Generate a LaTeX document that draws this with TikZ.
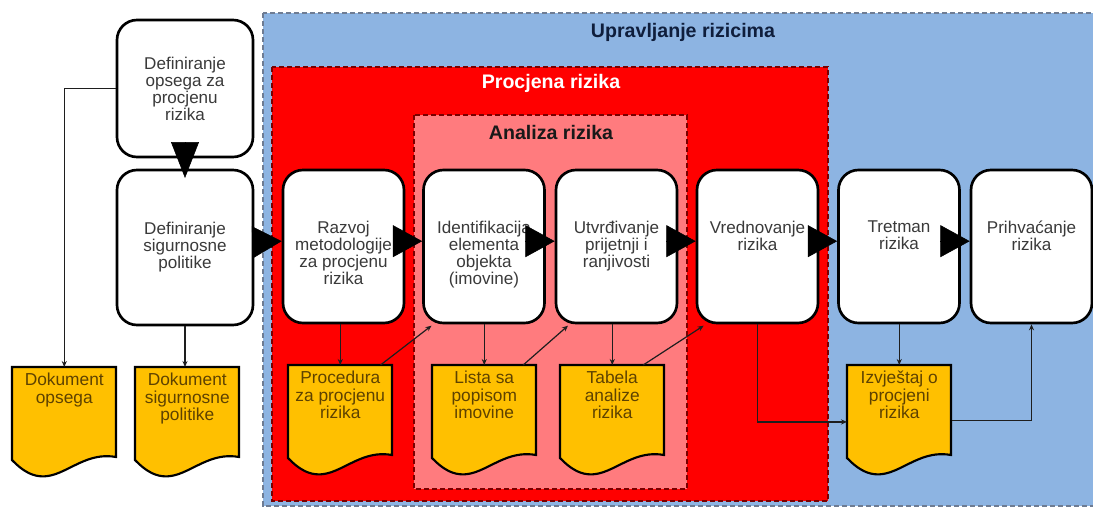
\documentclass[tikz,border=0pt]{standalone}
\usepackage{fontspec}
\setmainfont{Liberation Sans}
\usetikzlibrary{arrows.meta}
\definecolor{upr}{HTML}{8DB4E2}
\definecolor{uprb}{HTML}{6E7C93}
\definecolor{proc}{HTML}{FF0000}
\definecolor{procb}{HTML}{7A0000}
\definecolor{anal}{HTML}{FF7B7E}
\definecolor{docfill}{HTML}{FFC000}
\definecolor{doctx}{HTML}{5E4200}
\definecolor{boxtx}{HTML}{3A3A3A}
\definecolor{lntx}{HTML}{1E1E1E}
\definecolor{navy}{HTML}{0F1E3C}
\newcommand\ptxt[1]{\parbox[c][110pt][t]{88pt}{\centering\vspace{36pt}#1}}
\newcommand\dtxt[1]{\parbox[c][66pt][t]{78pt}{\centering\vspace{3pt}#1}}
\newcommand\docnode[4]{%
  \draw[dl] (#2,#3) -- (#2+104,#3) -- (#2+104,#3+90)
    .. controls (#2+60,#3+82) and (#2+40,#3+135) .. (#2,#3+93) -- cycle;
  \node[dk] (#1) at (#2,#3) {\dtxt{#4}};}
\begin{document}
\begin{tikzpicture}
[x=0.75pt,y=-0.75pt
,pb/.style={draw,line width=2pt,fill=white,rounded corners=15pt,minimum width=90.75pt,minimum height=114.75pt,inner sep=0pt,text=boxtx,font=\fontsize{12.8}{12.8}\selectfont}
,be/.style={draw=black,line width=0.4pt,arrows={-Triangle[length=22pt,width=24pt]}}
,ln/.style={draw=lntx,line width=0.9pt,arrows={-Stealth[length=4.5pt,width=3.8pt]}}
,dk/.style={minimum width=78pt,minimum height=69pt,inner sep=0pt,anchor=north west,text=doctx,font=\fontsize{13}{13}\selectfont}
,dl/.style={draw=black,line width=1.6pt,fill=docfill}
,zone/.style={dash pattern=on 4pt off 2pt,line width=0.8pt}
,ttl/.style={font=\fontsize{14.7}{16}\selectfont\bfseries}]
\useasboundingbox (0,0) rectangle (1093,508);
\path[zone,draw=uprb,fill=upr] (263,13) rectangle (1100,506);
\path[zone,draw=procb,fill=proc] (272,67) rectangle (828,501);
\path[zone,draw=procb,fill=anal] (414,115) rectangle (687,489);
\node[ttl,text=navy] (t1) at (683,32) {Upravljanje rizicima};
\node[ttl,text=white] (t2) at (551,83) {Procjena rizika};
\node[ttl,text=black!90] (t3) at (551,132) {Analiza rizika};
\node[pb,minimum width=102pt,minimum height=102.75pt,align=center] (b1) at (185,88.5) {Definiranje\\opsega za\\procjenu\\rizika};
\node[pb,minimum width=102pt,minimum height=116.25pt] (b2) at (185,247.5) {\ptxt{Definiranje\\sigurnosne\\politike}};
\node[pb] (b3) at (343.5,246.5) {\ptxt{Razvoj\\metodologije\\za procjenu\\rizika}};
\node[pb] (b4) at (484,246.5) {\ptxt{Identifikacija\\elementa\\objekta\\(imovine)}};
\node[pb] (b5) at (616.5,246.5) {\ptxt{Utvrđivanje\\prijetnji i\\ranjivosti}};
\node[pb] (b6) at (757.5,246.5) {\ptxt{Vrednovanje\\rizika}};
\node[pb] (b7) at (899,246.5) {\ptxt{Tretman\\rizika}};
\node[pb] (b8) at (1031.5,246.5) {\ptxt{Prihvaćanje\\rizika}};
\docnode{d1}{12}{367}{Dokument\\opsega}
\docnode{d2}{135}{367}{Dokument\\sigurnosne\\politike}
\docnode{d3}{288}{365}{Procedura\\za procjenu\\rizika}
\docnode{d4}{432}{365}{Lista sa\\popisom\\imovine}
\docnode{d5}{560}{365}{Tabela\\analize\\rizika}
\docnode{d6}{847}{365}{Izvještaj o\\procjeni\\rizika}
\draw[be,arrows={-Triangle[length=27pt,width=21pt]}] (b1.south) -- ([yshift=-7pt]b2.north);
\draw[be] ([yshift=4pt]b2.east) -- ([yshift=4pt]b3.west);
\draw[be] ([yshift=4pt]b3.east) -- ([yshift=4pt]b4.west);
\draw[be] ([yshift=4pt]b4.east) -- ([yshift=4pt]b5.west);
\draw[be] ([yshift=4pt]b5.east) -- ([yshift=4pt]b6.west);
\draw[be] ([yshift=4pt]b6.east) -- ([yshift=4pt]b7.west);
\draw[be] ([yshift=4pt]b7.east) -- ([yshift=4pt]b8.west);
\draw[ln] (b1.west) -| (d1.north);
\draw[ln] (b2.south) -- (b2.south |- d2.north);
\draw[ln] (d3.north |- b3.south) -- (d3.north);
\draw[ln] ([xshift=-9pt]d3.north east) -- ([xshift=7pt,yshift=-1pt]b4.south west);
\draw[ln] (d4.north |- b4.south) -- (d4.north);
\draw[ln] ([xshift=-10pt]d4.north east) -- ([xshift=10pt,yshift=-1pt]b5.south west);
\draw[ln] (d5.north |- b5.south) -- (d5.north);
\draw[ln] ([xshift=-16pt]d5.north east) -- ([xshift=6pt,yshift=-1pt]b6.south west);
\draw[ln] (b6.south) |- ([yshift=-8pt]d6.west);
\draw[ln] (d6.north |- b7.south) -- (d6.north);
\draw[ln] ([yshift=-7pt]d6.east) -| (b8.south);
\end{tikzpicture}
\end{document}
